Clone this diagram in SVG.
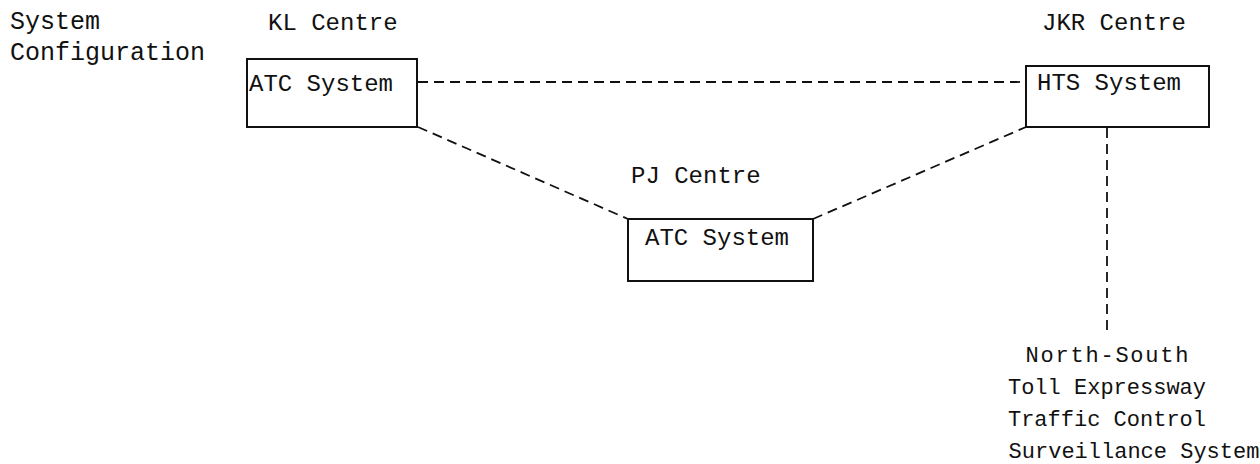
<svg xmlns="http://www.w3.org/2000/svg" width="1260" height="464" viewBox="0 0 1260 464">
<style>
text{font-family:"Liberation Mono","Courier New",monospace;fill:#111;font-size:24px}
.box{fill:#fff;stroke:#111;stroke-width:2}
.conn{fill:none;stroke:#111;stroke-width:1.8;stroke-dasharray:10 6}
.sm{font-size:22px}
.tt{font-size:25px}
</style>
<rect width="1260" height="464" fill="#fff"/>
<g id="title">
<text class="tt" x="10" y="29">System</text>
<text class="tt" x="10" y="60">Configuration</text>
</g>
<g id="connectors">
<line class="conn" x1="418" y1="82" x2="1026" y2="82"/>
<line class="conn" x1="418" y1="127" x2="628" y2="219"/>
<line class="conn" x1="813" y1="219" x2="1026" y2="127"/>
<line class="conn" x1="1107" y1="128" x2="1107" y2="336"/>
</g>
<g id="kl">
<text x="268" y="30">KL Centre</text>
<rect class="box" x="247" y="59" width="170" height="68"/>
<text x="249" y="91">ATC System</text>
</g>
<g id="jkr">
<text x="1042" y="30">JKR Centre</text>
<rect class="box" x="1026" y="66" width="183" height="61"/>
<text x="1037" y="90">HTS System</text>
</g>
<g id="pj">
<text x="631" y="183">PJ Centre</text>
<rect class="box" x="628" y="219" width="185" height="62"/>
<text x="645" y="245">ATC System</text>
</g>
<g id="ns">
<text class="sm" x="1107" y="362" text-anchor="middle" textLength="163">North-South</text>
<text class="sm" x="1107" y="394" text-anchor="middle">Toll Expressway</text>
<text class="sm" x="1107" y="426" text-anchor="middle">Traffic Control</text>
<text class="sm" x="1134" y="458" text-anchor="middle">Surveillance System</text>
</g>
</svg>
